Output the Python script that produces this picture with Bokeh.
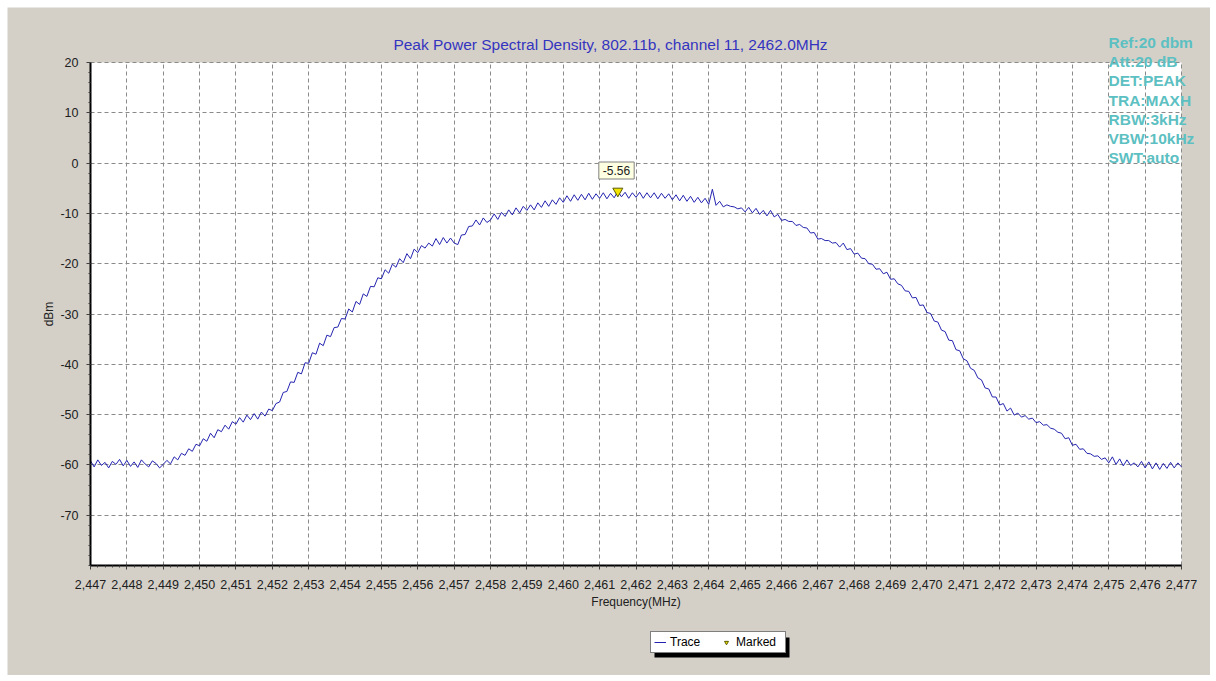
from bokeh.plotting import figure
from bokeh.models import Range1d, FixedTicker, Label, Legend, LegendItem, BoxAnnotation, Grid
from bokeh.embed import file_html
from bokeh.resources import INLINE

# ---------------- data ----------------
freq_start = 2447.0   # MHz
freq_step = 0.1       # MHz
power_dbm = [
    -59.2, -60.4, -59.0, -60.1, -59.5, -60.6, -59.3, -59.9, -58.9, -60.2,   # 2447
    -59.1, -60.3, -59.4, -60.5, -59.0, -59.8, -60.4, -59.2, -59.7, -60.6,   # 2448
    -59.9, -59.1, -59.8, -58.4, -59.0, -57.7, -58.1, -56.8, -57.3, -55.9,   # 2449
    -56.2, -54.8, -55.3, -53.7, -54.6, -53.0, -53.4, -52.1, -52.9, -51.4,   # 2450
    -51.9, -50.6, -51.5, -50.1, -51.0, -49.8, -50.9, -49.5, -50.3, -48.9,   # 2451
    -49.2, -47.8, -47.5, -45.6, -45.4, -43.5, -43.6, -41.6, -41.9, -39.7,   # 2452
    -39.8, -37.7, -38.0, -35.8, -36.3, -34.2, -34.5, -32.7, -32.6, -30.9,   # 2453
    -31.0, -29.0, -29.6, -27.5, -28.1, -26.0, -26.5, -24.5, -24.6, -22.8,   # 2454
    -23.0, -21.2, -21.9, -20.1, -20.7, -19.0, -19.8, -18.0, -19.0, -17.1,   # 2455
    -17.8, -16.4, -16.9, -15.9, -16.5, -15.0, -16.2, -14.8, -15.9, -14.9,   # 2456
    -15.9, -16.2, -14.3, -14.2, -12.6, -12.5, -11.3, -12.3, -10.9, -11.8,   # 2457
    -11.3, -10.1, -11.2, -9.8, -10.6, -9.3, -10.3, -8.9, -9.9, -8.6,        # 2458
    -9.4, -8.3, -9.3, -7.9, -8.8, -7.5, -8.6, -7.3, -8.2, -6.9,             # 2459
    -7.8, -6.5, -7.6, -6.3, -7.4, -6.2, -7.3, -6.0, -7.2, -6.1,             # 2460
    -7.0, -5.9, -7.1, -6.0, -6.9, -5.6, -6.7, -5.8, -7.0, -5.9,             # 2461
    -6.8, -5.8, -7.0, -5.9, -6.9, -5.9, -7.1, -6.0, -7.0, -6.1,             # 2462
    -7.3, -6.3, -7.5, -6.4, -7.6, -6.6, -7.8, -6.8, -7.9, -7.0,             # 2463
    -8.2, -5.2, -8.4, -7.6, -8.7, -8.3, -8.6, -8.7, -9.1, -8.9,             # 2464
    -9.7, -8.8, -9.9, -9.0, -10.2, -9.4, -10.5, -9.4, -10.7, -10.2,         # 2465
    -11.4, -11.2, -11.6, -11.6, -12.4, -12.2, -12.8, -12.9, -13.9, -13.8,   # 2466
    -15.1, -15.0, -15.4, -15.4, -15.9, -15.8, -16.7, -15.9, -17.2, -17.0,   # 2467
    -18.1, -17.9, -18.9, -19.0, -20.0, -20.1, -21.1, -21.0, -22.0, -21.7,   # 2468
    -23.1, -23.0, -24.0, -24.3, -25.4, -25.5, -26.8, -26.7, -28.3, -28.2,   # 2469
    -29.7, -29.9, -31.4, -31.6, -33.2, -33.5, -35.2, -35.3, -37.1, -37.3,   # 2470
    -38.9, -39.3, -40.8, -41.2, -42.7, -43.1, -44.7, -44.9, -46.5, -46.5,   # 2471
    -48.1, -47.8, -49.3, -48.7, -50.1, -49.7, -50.5, -50.2, -50.9, -50.7,   # 2472
    -51.6, -51.4, -52.1, -52.0, -52.7, -52.9, -53.5, -53.7, -54.8, -54.6,   # 2473
    -56.1, -55.9, -56.9, -56.8, -57.7, -57.8, -58.3, -58.2, -58.9, -58.6,   # 2474
    -59.6, -58.4, -59.9, -58.8, -60.2, -59.0, -60.1, -59.6, -60.4, -59.3,   # 2475
    -60.6, -59.4, -60.8, -59.6, -60.9, -59.7, -60.7, -59.5, -60.6, -59.6,   # 2476
    -60.4,                                                                  # 2477
]
freqs = [round(freq_start + i * freq_step, 1) for i in range(len(power_dbm))]

marker_freq = [2461.5]
marker_dbm = [-5.56]
marker_text = "-5.56"

x_ticks = list(range(2447, 2478))
x_tick_labels = ["2,447", "2,448", "2,449", "2,450", "2,451", "2,452", "2,453", "2,454",
                 "2,455", "2,456", "2,457", "2,458", "2,459", "2,460", "2,461", "2,462",
                 "2,463", "2,464", "2,465", "2,466", "2,467", "2,468", "2,469", "2,470",
                 "2,471", "2,472", "2,473", "2,474", "2,475", "2,476", "2,477"]
y_ticks = [20, 10, 0, -10, -20, -30, -40, -50, -60, -70]
y_tick_labels = ["20", "10", "0", "-10", "-20", "-30", "-40", "-50", "-60", "-70"]

title_text = "Peak Power Spectral Density, 802.11b, channel 11, 2462.0MHz"
info_lines = ["Ref:20 dbm", "Att:20 dB", "DET:PEAK", "TRA:MAXH", "RBW:3kHz", "VBW:10kHz", "SWT:auto"]
x_label = "Frequency(MHz)"
y_label = "dBm"
legend_labels = ["Trace", "Marked"]

# ---------------- styling / layout ----------------
FONT = "Liberation Sans"
PANEL = "#d4d0c8"
TRACE = "#2424b0"
X0, X1, Y0, Y1 = 2447, 2477, -80, 20
PAGE_OFF = 7                       # white page strip left/top
FL, FT = 90, 62                    # page px of (X0, Y1)
PX_MHZ = 1091 / 30.0
PX_DB = 503 / 100.0
FIG_W, FIG_H = 1203, 668


def dx(px):
    return X0 + (px - FL) / PX_MHZ


def dy(py):
    return Y1 - (py - FT) / PX_DB


p = figure(width=FIG_W, height=FIG_H, output_backend="svg", toolbar_location=None,
           x_range=Range1d(dx(PAGE_OFF), dx(PAGE_OFF + FIG_W)),
           y_range=Range1d(dy(PAGE_OFF + FIG_H), dy(PAGE_OFF)),
           min_border_left=0, min_border_right=0, min_border_top=0,
           min_border_bottom=0, title=None)
p.margin = (PAGE_OFF, 0, 0, PAGE_OFF)
p.border_fill_color = PANEL
p.background_fill_color = PANEL
p.outline_line_color = None

# white plotting area
p.add_layout(BoxAnnotation(left=X0, right=X1, bottom=Y0, top=Y1, fill_color="white",
                           fill_alpha=1.0, line_color=None, level="image"))

minor_x = [round(X0 + i * 0.2, 1) for i in range(int((X1 - X0) / 0.2) + 1)]
minor_y = list(range(Y0, Y1 + 1, 2))
p.xaxis.ticker = FixedTicker(ticks=x_ticks, minor_ticks=minor_x)
p.yaxis.ticker = FixedTicker(ticks=y_ticks, minor_ticks=minor_y)
p.xaxis.bounds = (X0, X1)
p.yaxis.bounds = (Y0, Y1)
p.xaxis.fixed_location = Y0
p.yaxis.fixed_location = X0
p.xaxis.major_label_overrides = {t: s for t, s in zip(x_ticks, x_tick_labels)}
p.yaxis.major_label_overrides = {t: s for t, s in zip(y_ticks, y_tick_labels)}

for ax in (p.xaxis[0], p.yaxis[0]):
    ax.axis_line_color = "black"
    ax.axis_line_width = 2
    ax.major_tick_line_color = "#404040"
    ax.minor_tick_line_color = "#404040"
    ax.major_tick_out = 4
    ax.major_tick_in = 0
    ax.minor_tick_out = 2
    ax.minor_tick_in = 0
    ax.major_label_text_font = FONT
    ax.major_label_text_font_size = "12.5px"
    ax.major_label_text_color = "#202020"
    ax.axis_label_text_font = FONT
    ax.axis_label_text_font_size = "12px"
    ax.axis_label_text_font_style = "normal"
    ax.axis_label_text_color = "#202020"
p.xaxis.major_label_standoff = 10
p.yaxis.major_label_standoff = 8
p.xaxis.axis_label = x_label
p.yaxis.axis_label = y_label
p.xaxis.axis_label_standoff = 3
p.yaxis.axis_label_standoff = 1

p.xgrid.ticker = FixedTicker(ticks=x_ticks)
p.ygrid.ticker = FixedTicker(ticks=y_ticks)
has_cross = "cross_bounds" in Grid.properties()
for g in (p.xgrid[0], p.ygrid[0]):
    g.grid_line_color = "#8a8a8a"
    g.grid_line_dash = "4 3"
    g.grid_line_width = 1
p.xgrid.bounds = (X0, X1)
p.ygrid.bounds = (Y0, Y1)
if has_cross:
    p.xgrid[0].cross_bounds = (Y0, Y1)
    p.ygrid[0].cross_bounds = (X0, X1)
else:
    for kw in (dict(bottom=Y1), dict(left=X1), dict(top=Y0), dict(right=X0)):
        p.add_layout(BoxAnnotation(fill_color=PANEL, fill_alpha=1.0, line_color=None,
                                   level="glyph", **kw))

r_trace = p.line(freqs, power_dbm, line_color=TRACE, line_width=1)
r_mark = p.scatter(marker_freq, marker_dbm, marker="inverted_triangle", size=10,
                   fill_color="#f2e400", line_color="#5a5a00", line_width=1)

# marker value tag
p.add_layout(Label(x=dx(616), y=dy(170), text=marker_text, text_align="center",
                   text_baseline="middle", text_font=FONT, text_font_size="12px",
                   text_color="#202020", background_fill_color="#ffffe1",
                   border_line_color="#808080", padding=4))

# title
p.add_layout(Label(x=dx(610), y=dy(44), text=title_text, text_align="center",
                   text_baseline="middle", text_font=FONT, text_font_size="15.5px",
                   text_color="#3434bf"))

# instrument settings
for i, s in enumerate(info_lines):
    p.add_layout(Label(x=dx(1108), y=dy(42 + i * 19.2), text=s, text_align="left",
                       text_baseline="middle", text_font=FONT, text_font_size="15.5px",
                       text_font_style="bold", text_color="#5cc0c2"))

# legend with a drop shadow, below the x axis (inside the frame)
LEG_L, LEG_T, LEG_R, LEG_B = 650, 633, 785, 653
p.add_layout(BoxAnnotation(left=dx(LEG_L + 4), right=dx(LEG_R + 4), top=dy(LEG_T + 4),
                           bottom=dy(LEG_B + 4), fill_color="black", fill_alpha=1.0,
                           line_color=None, level="glyph"))
items = [LegendItem(label=legend_labels[0], renderers=[r_trace]),
         LegendItem(label=legend_labels[1], renderers=[r_mark])]
legend = Legend(items=items, location=(LEG_L - PAGE_OFF, PAGE_OFF + FIG_H - LEG_B),
                orientation="horizontal", padding=3, margin=0, spacing=4,
                label_standoff=4, glyph_width=12, glyph_height=10,
                label_height=12, label_width=46,
                label_text_font=FONT, label_text_font_size="12px",
                label_text_color="black",
                border_line_color="black", border_line_width=1,
                background_fill_color="white", background_fill_alpha=1.0)
p.add_layout(legend, "center")

open("out.html", "w").write(file_html(p, INLINE))
